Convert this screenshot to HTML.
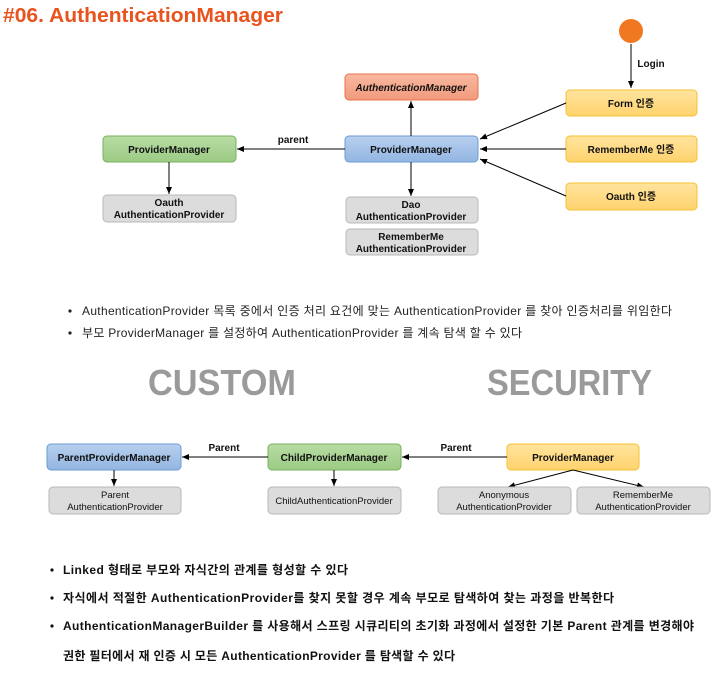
<!DOCTYPE html>
<html><head><meta charset="utf-8"><style>
html,body{margin:0;padding:0;background:#fff;}
svg{display:block;font-family:"Liberation Sans","Noto Sans CJK KR",sans-serif;}
</style></head><body>
<svg width="722" height="681" viewBox="0 0 722 681" xmlns="http://www.w3.org/2000/svg">
<defs>
<marker id="a" markerWidth="8" markerHeight="8" refX="7" refY="4" orient="auto" markerUnits="userSpaceOnUse"><path d="M0,1 L7,4 L0,7 z" fill="#000"/></marker>
<linearGradient id="gb" x1="0" y1="0" x2="0" y2="1"><stop offset="0" stop-color="#b7d0ee"/><stop offset="1" stop-color="#93b6e2"/></linearGradient>
<linearGradient id="gg" x1="0" y1="0" x2="0" y2="1"><stop offset="0" stop-color="#b8dca5"/><stop offset="1" stop-color="#9ccb84"/></linearGradient>
<linearGradient id="gy" x1="0" y1="0" x2="0" y2="1"><stop offset="0" stop-color="#ffe49e"/><stop offset="1" stop-color="#ffd36e"/></linearGradient>
<linearGradient id="go" x1="0" y1="0" x2="0" y2="1"><stop offset="0" stop-color="#f8b9a0"/><stop offset="1" stop-color="#f19a7c"/></linearGradient>
</defs>
<text x="3" y="22" font-size="20" font-weight="bold" fill="#e8531e" textLength="280" lengthAdjust="spacingAndGlyphs">#06. AuthenticationManager</text>

<g font-size="10" font-weight="bold" text-anchor="middle" fill="#111">
<circle cx="631" cy="31" r="12" fill="#f07820"/>
<line x1="631" y1="44" x2="631" y2="88" stroke="#000" marker-end="url(#a)"/>
<text x="651" y="67" text-anchor="middle">Login</text>

<rect x="345" y="74" width="133" height="26" rx="4" fill="url(#go)" stroke="#e8734c"/>
<text x="411" y="91" font-style="italic">AuthenticationManager</text>
<rect x="345" y="136" width="133" height="26" rx="4" fill="url(#gb)" stroke="#6d9bd6"/>
<text x="411" y="153">ProviderManager</text>
<rect x="103" y="136" width="133" height="26" rx="4" fill="url(#gg)" stroke="#79b05c"/>
<text x="169" y="153">ProviderManager</text>
<rect x="566" y="90" width="131" height="26" rx="4" fill="url(#gy)" stroke="#f4c030"/>
<text x="631" y="107">Form 인증</text>
<rect x="566" y="136" width="131" height="26" rx="4" fill="url(#gy)" stroke="#f4c030"/>
<text x="631" y="153">RememberMe 인증</text>
<rect x="566" y="183" width="131" height="27" rx="4" fill="url(#gy)" stroke="#f4c030"/>
<text x="631" y="200">Oauth 인증</text>
<g font-weight="normal" fill="#111">
<rect x="103" y="195" width="133" height="27" rx="4" fill="#dcdcdc" stroke="#b8b8b8"/>
<text x="169" y="206" font-weight="bold">Oauth</text><text x="169" y="218" font-weight="bold">AuthenticationProvider</text>
<rect x="346" y="197" width="132" height="26" rx="4" fill="#dcdcdc" stroke="#b8b8b8"/>
<text x="411" y="208" font-weight="bold">Dao</text><text x="411" y="220" font-weight="bold">AuthenticationProvider</text>
<rect x="346" y="229" width="132" height="26" rx="4" fill="#dcdcdc" stroke="#b8b8b8"/>
<text x="411" y="240" font-weight="bold">RememberMe</text><text x="411" y="252" font-weight="bold">AuthenticationProvider</text>
</g>
<line x1="411" y1="136" x2="411" y2="101" stroke="#000" marker-end="url(#a)"/>
<line x1="345" y1="149" x2="237" y2="149" stroke="#000" marker-end="url(#a)"/>
<text x="293" y="143">parent</text>
<line x1="169" y1="162" x2="169" y2="194" stroke="#000" marker-end="url(#a)"/>
<line x1="411" y1="162" x2="411" y2="196" stroke="#000" marker-end="url(#a)"/>
<line x1="566" y1="103" x2="480" y2="139" stroke="#000" marker-end="url(#a)"/>
<line x1="566" y1="149" x2="480" y2="149" stroke="#000" marker-end="url(#a)"/>
<line x1="566" y1="196" x2="480" y2="159" stroke="#000" marker-end="url(#a)"/>
</g>

<g font-size="12" fill="#222">
<circle cx="70" cy="311" r="1.6" fill="#222"/>
<text x="82" y="315" textLength="590">AuthenticationProvider 목록 중에서 인증 처리 요건에 맞는 AuthenticationProvider 를 찾아 인증처리를 위임한다</text>
<circle cx="70" cy="333" r="1.6" fill="#222"/>
<text x="82" y="337" textLength="440">부모 ProviderManager 를 설정하여  AuthenticationProvider 를 계속 탐색 할 수 있다</text>
</g>
<g font-size="36" font-weight="bold" fill="#9a9a9a">
<text x="148" y="395" textLength="148" lengthAdjust="spacingAndGlyphs">CUSTOM</text>
<text x="487" y="395" textLength="165" lengthAdjust="spacingAndGlyphs">SECURITY</text>
</g>

<g font-size="10" font-weight="bold" text-anchor="middle" fill="#111">
<rect x="47" y="444" width="134" height="26" rx="4" fill="url(#gb)" stroke="#6d9bd6"/>
<text x="114" y="461">ParentProviderManager</text>
<rect x="268" y="444" width="133" height="26" rx="4" fill="url(#gg)" stroke="#79b05c"/>
<text x="334" y="461">ChildProviderManager</text>
<rect x="507" y="444" width="132" height="26" rx="4" fill="url(#gy)" stroke="#f4c030"/>
<text x="573" y="461">ProviderManager</text>
<text x="224" y="451">Parent</text>
<text x="456" y="451">Parent</text>
<line x1="268" y1="457" x2="182" y2="457" stroke="#000" marker-end="url(#a)"/>
<line x1="507" y1="457" x2="402" y2="457" stroke="#000" marker-end="url(#a)"/>
<line x1="114" y1="470" x2="114" y2="486" stroke="#000" marker-end="url(#a)"/>
<line x1="334" y1="470" x2="334" y2="486" stroke="#000" marker-end="url(#a)"/>
<line x1="573" y1="470" x2="508" y2="487" stroke="#000" marker-end="url(#a)"/>
<line x1="573" y1="470" x2="644" y2="487" stroke="#000" marker-end="url(#a)"/>
<g font-weight="normal" font-size="9.5">
<rect x="49" y="487" width="132" height="27" rx="4" fill="#dcdcdc" stroke="#b8b8b8"/>
<text x="115" y="498">Parent</text><text x="115" y="510">AuthenticationProvider</text>
<rect x="268" y="487" width="133" height="27" rx="4" fill="#dcdcdc" stroke="#b8b8b8"/>
<text x="334" y="504">ChildAuthenticationProvider</text>
<rect x="438" y="487" width="133" height="27" rx="4" fill="#dcdcdc" stroke="#b8b8b8"/>
<text x="504" y="498">Anonymous</text><text x="504" y="510">AuthenticationProvider</text>
<rect x="577" y="487" width="133" height="27" rx="4" fill="#dcdcdc" stroke="#b8b8b8"/>
<text x="643" y="498">RememberMe</text><text x="643" y="510">AuthenticationProvider</text>
</g>
</g>

<g font-size="12" font-weight="bold" fill="#111">
<circle cx="52" cy="570" r="1.6"/>
<text x="63" y="574" textLength="285">Linked 형태로 부모와 자식간의 관계를 형성할 수 있다</text>
<circle cx="52" cy="598" r="1.6"/>
<text x="63" y="602" textLength="551">자식에서 적절한 AuthenticationProvider를 찾지 못할 경우 계속 부모로 탐색하여 찾는 과정을 반복한다</text>
<circle cx="52" cy="626" r="1.6"/>
<text x="63" y="630" textLength="631">AuthenticationManagerBuilder 를 사용해서 스프링 시큐리티의 초기화 과정에서 설정한 기본 Parent 관계를 변경해야</text>
<text x="63" y="660" textLength="392">권한 필터에서 재 인증 시 모든 AuthenticationProvider 를 탐색할 수 있다</text>
</g>
</svg>
</body></html>
